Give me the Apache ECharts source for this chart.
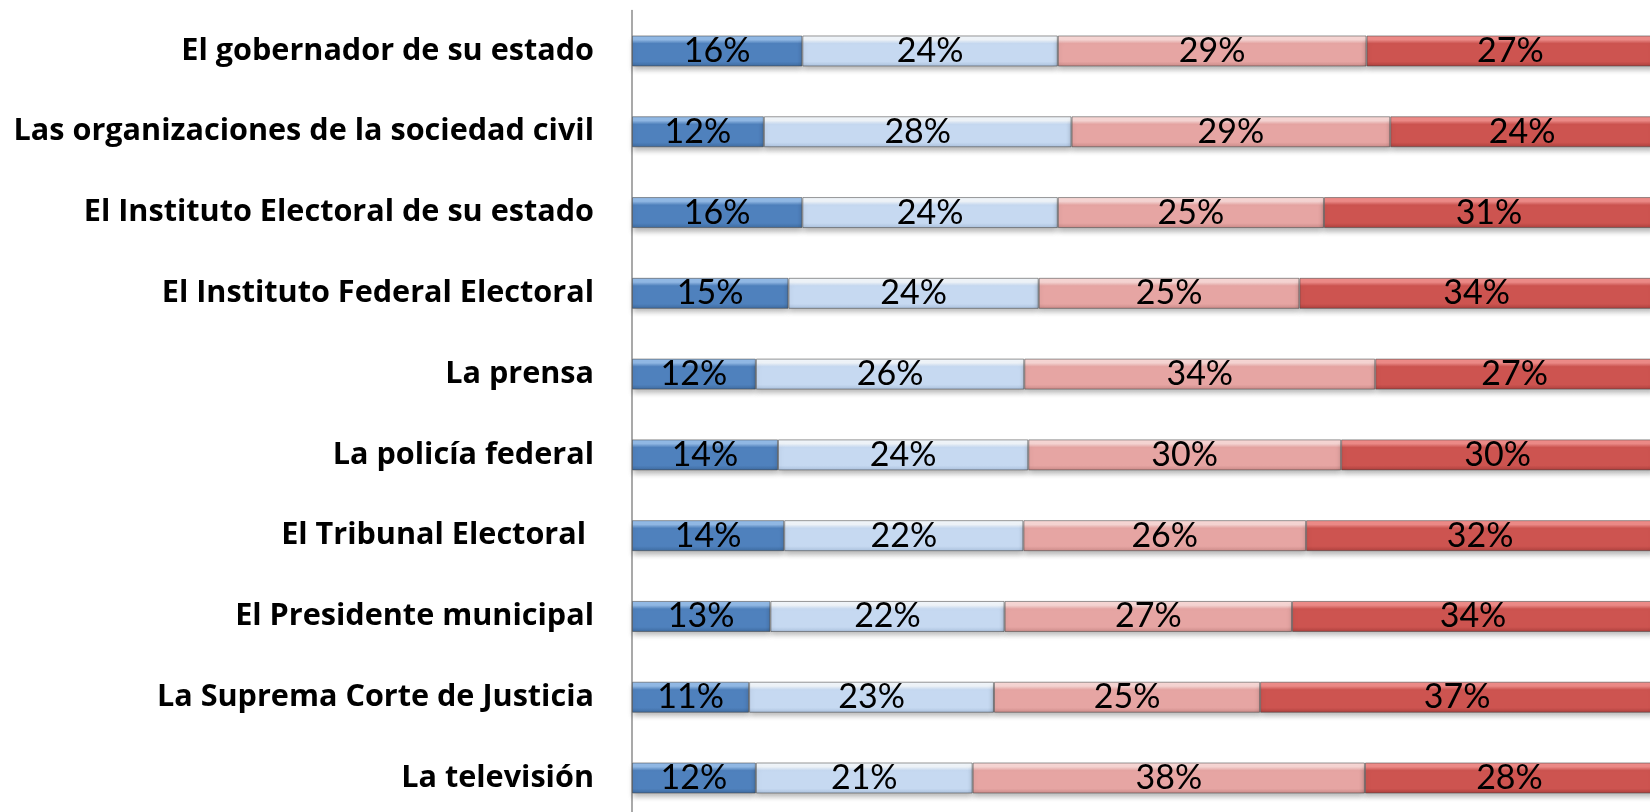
<!DOCTYPE html>
<html>
<head>
<meta charset="utf-8">
<script src="https://cdn.jsdelivr.net/npm/echarts@6/dist/echarts.min.js"></script>
<style>
  html, body { margin: 0; padding: 0; background: #ffffff; }
  #chart { width: 1650px; height: 812px; }
</style>
</head>
<body>
<div id="chart"></div>
<script>
// Categories, top to bottom
const categories = [
  'El gobernador de su estado',
  'Las organizaciones de la sociedad civil',
  'El Instituto Electoral de su estado',
  'El Instituto Federal Electoral',
  'La prensa',
  'La policía federal',
  'El Tribunal Electoral ',
  'El Presidente municipal',
  'La Suprema Corte de Justicia',
  'La televisión'
];
// Displayed percentages per segment (left to right)
const seg1 = [16, 12, 16, 15, 12, 14, 14, 13, 11, 12];
const seg2 = [24, 28, 24, 24, 26, 24, 22, 22, 23, 21];
const seg3 = [29, 29, 25, 25, 34, 30, 26, 27, 25, 38];
const seg4 = [27, 24, 31, 34, 27, 30, 32, 34, 37, 28];
const seriesNames = ['Mucho', 'Algo', 'Poco', 'Nada'];

const allSegs = [seg1, seg2, seg3, seg4];
const rowTotals = categories.map((_, i) => allSegs.reduce((s, a) => s + a[i], 0));

function grad(top, mid, bottom) {
  return new echarts.graphic.LinearGradient(0, 0, 0, 1, [
    { offset: 0, color: top },
    { offset: 0.14, color: top },
    { offset: 0.26, color: mid },
    { offset: 0.84, color: mid },
    { offset: 1, color: bottom }
  ]);
}
const fills = [
  grad('#93bbe8', '#4f81bd', '#3d6a9f'),
  grad('#f2f7fc', '#c6d9f1', '#a9bfdb'),
  grad('#f9d8d6', '#e6a5a3', '#c98987'),
  grad('#f08c89', '#cd5450', '#ab3f3c')
];

const series = allSegs.map((arr, k) => ({
  name: seriesNames[k],
  type: 'bar',
  stack: 'total',
  barWidth: 31,
  data: arr.map((v, i) => ({ value: v / rowTotals[i] * 100, raw: v })),
  itemStyle: {
    color: fills[k],
    borderColor: 'rgba(70,70,70,0.55)',
    borderWidth: 1,
    shadowColor: 'rgba(0,0,0,0.28)',
    shadowBlur: 5,
    shadowOffsetY: 4
  },
  label: {
    show: true,
    position: 'inside',
    color: '#000000',
    fontFamily: 'Lato',
    fontSize: 34,
    formatter: p => p.data.raw + '%'
  }
}));

const chart = echarts.init(document.getElementById('chart'), null, { renderer: 'canvas' });
chart.setOption({
  animation: false,
  backgroundColor: '#ffffff',
  grid: {
    left: 632,
    right: -4,
    top: 10.6,
    bottom: -6.4,
    containLabel: false,
    outerBoundsMode: 'none'
  },
  xAxis: {
    type: 'value',
    min: 0,
    max: 100,
    show: false
  },
  yAxis: {
    type: 'category',
    data: categories,
    inverse: true,
    axisLine: { show: true, lineStyle: { color: '#8c8c8c', width: 1.5 } },
    axisTick: { show: false },
    axisLabel: {
      margin: 38,
      color: '#000000',
      fontFamily: 'Open Sans',
      fontWeight: 'bold',
      fontSize: 30.6
    }
  },
  series: series
});
</script>
</body>
</html>
